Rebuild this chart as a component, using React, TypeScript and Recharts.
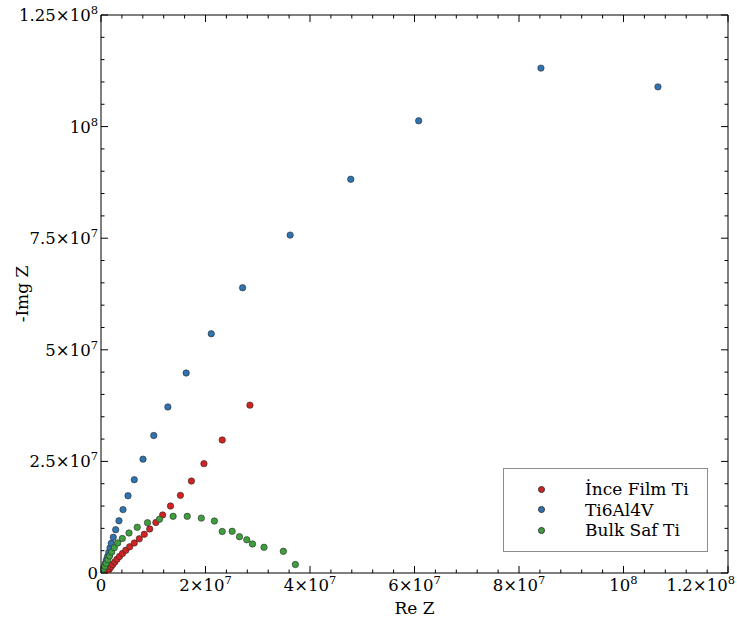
import React from 'react';
import { ScatterChart, Scatter, XAxis, YAxis, ReferenceArea, Legend } from 'recharts';

// Impedance data, values in MΩ (Re Z, -Img Z)
const inceFilmRe = [1.15, 1.24, 1.4, 1.63, 1.91, 2.26, 2.64, 3.06, 3.54, 4.11, 4.75, 5.49, 6.37, 7.33, 8.29, 9.32, 10.5, 11.8, 13.3, 15.2, 17.3, 19.7, 23.2, 28.5];
const inceFilmIm = [0.11, 0.29, 0.56, 0.94, 1.39, 1.9, 2.46, 3.07, 3.7, 4.37, 5.09, 5.87, 6.72, 7.66, 8.67, 9.86, 11.3, 13.0, 15.0, 17.4, 20.6, 24.5, 29.8, 37.6];

const ti6al4vRe = [0.04, 0.1, 0.23, 0.38, 0.57, 0.8, 1.03, 1.26, 1.49, 1.72, 1.97, 2.35, 2.81, 3.44, 4.21, 5.17, 6.37, 8.04, 10.1, 12.8, 16.3, 21.1, 27.1, 36.2, 47.8, 60.8, 84.2, 106.6];
const ti6al4vIm = [0.05, 0.16, 0.45, 0.9, 1.46, 2.1, 2.9, 3.7, 4.6, 5.6, 6.65, 8.0, 9.7, 11.7, 14.2, 17.3, 20.9, 25.5, 30.8, 37.2, 44.8, 53.6, 63.9, 75.7, 88.2, 101.3, 113.1, 108.9];

const bulkRe = [0.13, 0.29, 0.48, 0.73, 0.99, 1.3, 1.65, 2.05, 2.55, 3.2, 4.08, 5.36, 6.93, 8.9, 11.2, 13.8, 16.5, 19.2, 21.7, 23.2, 25.1, 26.5, 27.9, 29.0, 31.2, 34.9, 37.2];
const bulkIm = [0.16, 0.45, 0.9, 1.5, 2.17, 2.96, 3.81, 4.7, 5.67, 6.72, 7.73, 8.96, 10.24, 11.27, 12.05, 12.7, 12.7, 12.3, 11.65, 9.3, 9.34, 8.13, 7.44, 6.5, 5.76, 4.86, 1.9];

const xMajorTicks = [0, 2e7, 4e7, 6e7, 8e7, 1e8, 1.2e8];
const xTickLabels = ['0', '2×10^7', '4×10^7', '6×10^7', '8×10^7', '10^8', '1.2×10^8'];
const yMajorTicks = [0, 2.5e7, 5e7, 7.5e7, 1e8, 1.25e8];
const yTickLabels = ['0', '2.5×10^7', '5×10^7', '7.5×10^7', '10^8', '1.25×10^8'];

const X_MAX = 1.2e8;
const Y_MAX = 1.25e8;
const X_MINOR_STEP = 4e6;
const Y_MINOR_STEP = 5e6;

const WIDTH = 737;
const HEIGHT = 626;
const FONT = 'DejaVu Serif, serif';
const PLOT = { left: 101, right: 728, top: 15, bottom: 573 };

const toPoints = (re: number[], im: number[]) =>
  re.map((r, i) => ({ re: r * 1e6, im: im[i] * 1e6 }));

const SERIES = [
  { name: 'İnce Film Ti', color: '#d42222', data: toPoints(inceFilmRe, inceFilmIm) },
  { name: 'Ti6Al4V', color: '#2f74b1', data: toPoints(ti6al4vRe, ti6al4vIm) },
  { name: 'Bulk Saf Ti', color: '#3e9f3e', data: toPoints(bulkRe, bulkIm) },
];

const xTicks = Array.from({ length: Math.round(X_MAX / X_MINOR_STEP) + 1 }, (_, i) => i * X_MINOR_STEP);
const yTicks = Array.from({ length: Math.round(Y_MAX / Y_MINOR_STEP) + 1 }, (_, i) => i * Y_MINOR_STEP);

const majorIndex = (majors: number[], v: number) =>
  majors.findIndex(m => Math.abs(m - v) < 1);

// "2×10^7" -> base with a raised exponent
const TickText = ({ x, y, anchor, label }: { x: number; y: number; anchor: string; label: string }) => {
  const [base, exp] = label.split('^');
  return (
    <text x={x} y={y} textAnchor={anchor as any} fontFamily={FONT} fontSize={16.5} fill="#000">
      <tspan>{base}</tspan>
      {exp && <tspan dy={-7} fontSize={11.5}>{exp}</tspan>}
    </text>
  );
};

const XTick = (props: any) => {
  const { x, payload } = props;
  const idx = majorIndex(xMajorTicks, payload.value);
  const len = idx >= 0 ? 7 : 3.5;
  // the rightmost label is pulled in so it stays inside the figure
  const isLast = idx === xMajorTicks.length - 1;
  return (
    <g>
      <line x1={x} x2={x} y1={PLOT.bottom} y2={PLOT.bottom - len} stroke="#000" strokeWidth={1} />
      <line x1={x} x2={x} y1={PLOT.top} y2={PLOT.top + len} stroke="#000" strokeWidth={1} />
      {idx >= 0 && (
        <TickText
          x={isLast ? WIDTH - 2 : x}
          y={PLOT.bottom + 18}
          anchor={isLast ? 'end' : 'middle'}
          label={xTickLabels[idx]}
        />
      )}
    </g>
  );
};

const YTick = (props: any) => {
  const { y, payload } = props;
  const idx = majorIndex(yMajorTicks, payload.value);
  const len = idx >= 0 ? 7 : 3.5;
  return (
    <g>
      <line x1={PLOT.left} x2={PLOT.left + len} y1={y} y2={y} stroke="#000" strokeWidth={1} />
      <line x1={PLOT.right} x2={PLOT.right - len} y1={y} y2={y} stroke="#000" strokeWidth={1} />
      {idx >= 0 && <TickText x={PLOT.left - 3} y={y + 6} anchor="end" label={yTickLabels[idx]} />}
    </g>
  );
};

const Dot = (color: string) => (props: any) => {
  const { cx, cy } = props;
  return <circle cx={cx} cy={cy} r={3.2} fill={color} stroke="#2a2a2a" strokeWidth={0.6} />;
};

const renderLegend = () => (
  <div
    style={{
      width: 205,
      height: 84,
      boxSizing: 'border-box',
      border: '1px solid #8c8c8c',
      background: '#fff',
      paddingTop: 10,
      fontFamily: FONT,
      fontSize: 17,
      color: '#000',
    }}
  >
    {SERIES.map(s => (
      <div key={s.name} style={{ display: 'flex', alignItems: 'center', height: 20.5 }}>
        <span
          style={{
            display: 'inline-block',
            marginLeft: 34,
            width: 5,
            height: 5,
            borderRadius: '50%',
            background: s.color,
            border: '0.5px solid #333',
          }}
        />
        <span style={{ marginLeft: 40, whiteSpace: 'nowrap' }}>{s.name}</span>
      </div>
    ))}
  </div>
);

export default function App() {
  return (
    <div style={{ position: 'absolute', left: 0, top: 0, background: '#fff' }}>
      <ScatterChart width={WIDTH} height={HEIGHT} margin={{ top: 15, right: 9, bottom: 0, left: 0 }}>
        <XAxis
          type="number"
          dataKey="re"
          domain={[0, X_MAX]}
          ticks={xTicks}
          interval={0}
          allowDataOverflow
          height={53}
          axisLine={false}
          tickLine={false}
          tick={<XTick />}
          label={{
            content: () => (
              <text
                x={(PLOT.left + PLOT.right) / 2}
                y={614}
                textAnchor="middle"
                fontFamily={FONT}
                fontSize={17}
                fill="#000"
              >
                Re Z
              </text>
            ),
          }}
        />
        <YAxis
          type="number"
          dataKey="im"
          domain={[0, Y_MAX]}
          ticks={yTicks}
          interval={0}
          allowDataOverflow
          width={101}
          axisLine={false}
          tickLine={false}
          tick={<YTick />}
          label={{
            content: () => (
              <text
                x={28}
                y={(PLOT.top + PLOT.bottom) / 2}
                transform={`rotate(-90, 28, ${(PLOT.top + PLOT.bottom) / 2})`}
                textAnchor="middle"
                fontFamily={FONT}
                fontSize={17}
                fill="#000"
              >
                -Img Z
              </text>
            ),
          }}
        />
        <ReferenceArea x1={0} x2={X_MAX} y1={0} y2={Y_MAX} fill="#fff" fillOpacity={0} stroke="#000" strokeWidth={1} />
        {SERIES.map(s => (
          <Scatter
            key={s.name}
            name={s.name}
            data={s.data}
            fill={s.color}
            shape={Dot(s.color)}
            isAnimationActive={false}
          />
        ))}
        <Legend
          layout="vertical"
          align="center"
          verticalAlign="middle"
          content={renderLegend}
          wrapperStyle={{ left: 503, top: 468, width: 205, height: 84 }}
        />
      </ScatterChart>
    </div>
  );
}
